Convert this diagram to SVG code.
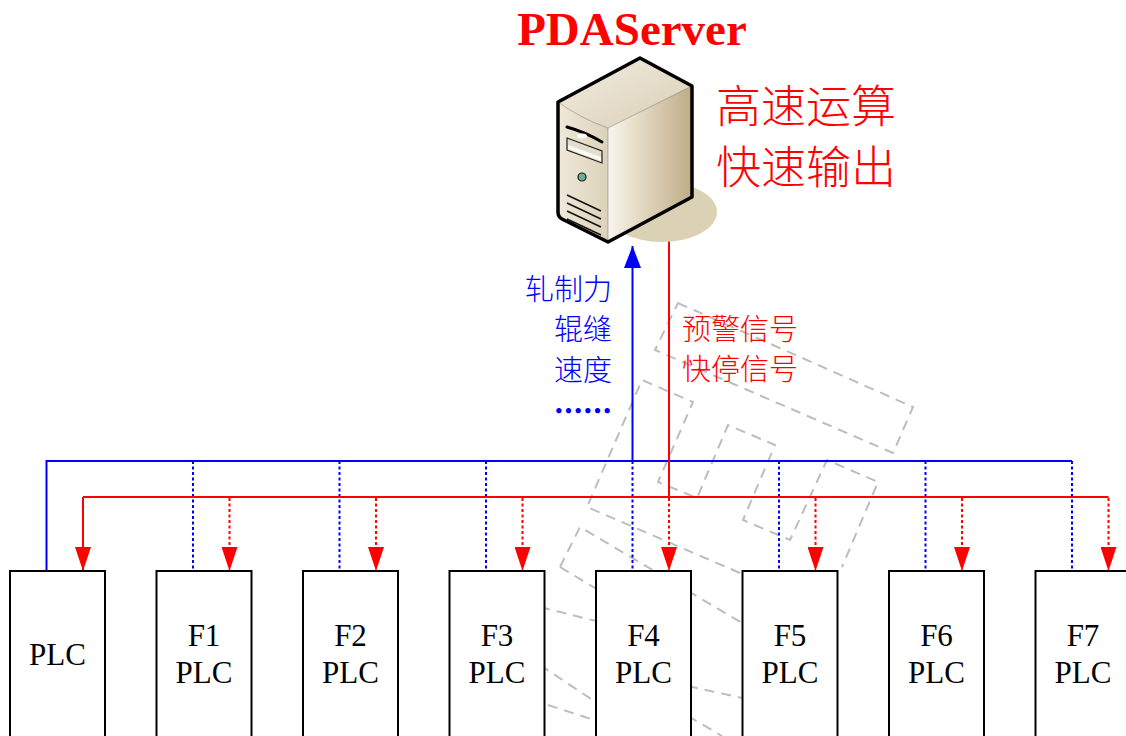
<svg xmlns="http://www.w3.org/2000/svg" width="1126" height="736" viewBox="0 0 1126 736">
  <style>
    .wm { fill: none; stroke: #bdbdbd; stroke-width: 2; stroke-dasharray: 10 7; }
    .bus-b { fill: none; stroke: #0000ff; stroke-width: 2; }
    .bus-r { fill: none; stroke: #ff0000; stroke-width: 2; }
    .dot-b { fill: none; stroke: #0000ff; stroke-width: 2; stroke-dasharray: 3 2.5; }
    .dot-r { fill: none; stroke: #ff0000; stroke-width: 2; stroke-dasharray: 3 2.5; }
    .box { fill: #ffffff; stroke: #000000; stroke-width: 2; }
    .lbl { font-family: "Liberation Serif", "Times New Roman", serif; font-size: 31px; fill: #000000; text-anchor: middle; }
    .cn { font-family: "Noto Sans CJK SC", "Noto Sans CJK JP", sans-serif; font-weight: 300; }
    .ellip { font-family: "Noto Sans CJK SC", "Noto Sans CJK JP", sans-serif; font-weight: 900; }
  </style>
  <defs>
    <marker id="arrowR" markerUnits="userSpaceOnUse" markerWidth="24" markerHeight="16" viewBox="0 0 24 16" refX="24" refY="8" orient="auto">
      <path d="M0,0 L24,8 L0,16 z" fill="#ff0000"/>
    </marker>
    <marker id="arrowB" markerUnits="userSpaceOnUse" markerWidth="22" markerHeight="17" viewBox="0 0 22 17" refX="22" refY="8.5" orient="auto">
      <path d="M0,0 L22,8.5 L0,17 z" fill="#0000ff"/>
    </marker>
    <linearGradient id="gFront" x1="0" y1="0" x2="1" y2="0">
      <stop offset="0" stop-color="#efe9da"/>
      <stop offset="1" stop-color="#dcd2ba"/>
    </linearGradient>
    <linearGradient id="gSide" x1="0" y1="0" x2="1" y2="0">
      <stop offset="0" stop-color="#f8f5ee"/>
      <stop offset="0.35" stop-color="#e6dcc6"/>
      <stop offset="1" stop-color="#bfac86"/>
    </linearGradient>
    <linearGradient id="gTop" x1="0" y1="0" x2="1" y2="1">
      <stop offset="0" stop-color="#f3eee2"/>
      <stop offset="1" stop-color="#d9ceb5"/>
    </linearGradient>
  </defs>

  <!-- faint dashed background outlines -->
  <g id="backdrop">
    <polygon class="wm" points="678,303 913,407 893,453 655,350"/>
    <polyline class="wm" points="740,573 587,507 642,380 693,402 658,482 697,498 728,425 775,445 743,520 790,540 827,460 878,482 842,567"/>
    <polyline class="wm" points="560,567 580,527 742,623"/>
    <line class="wm" x1="560" y1="567" x2="640" y2="615"/>
    <line class="wm" x1="540" y1="607" x2="600" y2="622"/>
    <line class="wm" x1="540" y1="665" x2="600" y2="705"/>
    <line class="wm" x1="548" y1="705" x2="600" y2="722"/>
    <line class="wm" x1="688" y1="686" x2="742" y2="698"/>
    <line class="wm" x1="688" y1="716" x2="722" y2="736"/>
  </g>

  <!-- signal lines -->
  <g id="connectors">
    <path class="bus-b" d="M46.5,571 V461 H1072"/>
    <path class="bus-b" d="M632.5,461 V246" marker-end="url(#arrowB)"/>
    <path class="dot-b" d="M193,461 V571 M339.5,461 V571 M486,461 V571 M632.5,461 V571 M779,461 V571 M925.5,461 V571 M1072,461 V571"/>

    <path class="bus-r" d="M669,240 V497 M83,497 H1108.5"/>
    <path class="bus-r" d="M83,497 V571" marker-end="url(#arrowR)"/>
    <path class="dot-r" d="M229.5,498 V571" marker-end="url(#arrowR)"/>
    <path class="dot-r" d="M376,498 V571" marker-end="url(#arrowR)"/>
    <path class="dot-r" d="M522.5,498 V571" marker-end="url(#arrowR)"/>
    <path class="dot-r" d="M669,498 V571" marker-end="url(#arrowR)"/>
    <path class="dot-r" d="M815.5,498 V571" marker-end="url(#arrowR)"/>
    <path class="dot-r" d="M962,498 V571" marker-end="url(#arrowR)"/>
    <path class="dot-r" d="M1108.5,498 V571" marker-end="url(#arrowR)"/>
  </g>

  <!-- controllers -->
  <g id="plc">
    <rect class="box" x="10" y="571" width="95" height="175"/>
    <text class="lbl" x="57.5" y="665">PLC</text>
  </g>
  <g id="f1">
    <rect class="box" x="156.5" y="571" width="95" height="175"/>
    <text class="lbl" x="204" y="646">F1</text>
    <text class="lbl" x="204" y="683">PLC</text>
  </g>
  <g id="f2">
    <rect class="box" x="303" y="571" width="95" height="175"/>
    <text class="lbl" x="350.5" y="646">F2</text>
    <text class="lbl" x="350.5" y="683">PLC</text>
  </g>
  <g id="f3">
    <rect class="box" x="449.5" y="571" width="95" height="175"/>
    <text class="lbl" x="497" y="646">F3</text>
    <text class="lbl" x="497" y="683">PLC</text>
  </g>
  <g id="f4">
    <rect class="box" x="596" y="571" width="95" height="175"/>
    <text class="lbl" x="643.5" y="646">F4</text>
    <text class="lbl" x="643.5" y="683">PLC</text>
  </g>
  <g id="f5">
    <rect class="box" x="742.5" y="571" width="95" height="175"/>
    <text class="lbl" x="790" y="646">F5</text>
    <text class="lbl" x="790" y="683">PLC</text>
  </g>
  <g id="f6">
    <rect class="box" x="889" y="571" width="95" height="175"/>
    <text class="lbl" x="936.5" y="646">F6</text>
    <text class="lbl" x="936.5" y="683">PLC</text>
  </g>
  <g id="f7">
    <rect class="box" x="1035.5" y="571" width="95" height="175"/>
    <text class="lbl" x="1083" y="646">F7</text>
    <text class="lbl" x="1083" y="683">PLC</text>
  </g>

  <!-- server tower -->
  <g id="server">
    <text x="632" y="45" font-family="Liberation Serif, Times New Roman, serif" font-weight="bold" font-size="47" fill="#ff0000" text-anchor="middle">PDAServer</text>
    <ellipse cx="662" cy="212" rx="55" ry="30" fill="#dbd1b5"/>
    <!-- top face -->
    <path d="M558,102 L640,58 L692,86 L608,128 Q580,118 558,102 z" fill="url(#gTop)"/>
    <!-- side face -->
    <path d="M608,128 L692,86 L692,197 L608,242 z" fill="url(#gSide)"/>
    <!-- front face -->
    <path d="M558,102 Q580,118 608,128 L608,242 L562,219 Q558,217 558,212 z" fill="url(#gFront)"/>
    <!-- edges -->
    <path d="M558,102 L640,58 L692,86 L692,197 L608,242 L562,219 Q558,217 558,212 z" fill="none" stroke="#000" stroke-width="3.5" stroke-linejoin="round"/>
    <path d="M558,102 Q580,118 608,128 L692,86 M608,128 V242" fill="none" stroke="#000" stroke-width="1" stroke-opacity="0.25"/>
    <!-- drive bay -->
    <path d="M567,127 Q585,132 602,142" fill="none" stroke="#000" stroke-width="3" stroke-linecap="round"/>
    <ellipse cx="582" cy="136" rx="5" ry="2.5" fill="#ffffff"/>
    <polygon points="567,138 602,151 602,163 567,150" fill="#e4ddcd" stroke="#222" stroke-width="1.2"/>
    <polygon points="568,145 601,157 601,161 568,149" fill="#fbf9f4"/>
    <circle cx="582" cy="177" r="4" fill="#67b296" stroke="#1a1a1a" stroke-width="1.2"/>
    <path d="M567,195 L601,211 M567,203 L601,219 M567,211 L601,227 M567,219 L601,235" fill="none" stroke="#111" stroke-width="1.5"/>
  </g>

  <!-- annotations -->
  <g id="notes">
    <text class="cn" x="716" y="123" font-size="45" fill="#ff0000">高速运算</text>
    <text class="cn" x="716" y="184" font-size="45" fill="#ff0000">快速输出</text>
    <text class="cn" x="612" y="300" font-size="29" fill="#0000ff" text-anchor="end">轧制力</text>
    <text class="cn" x="612" y="340" font-size="29" fill="#0000ff" text-anchor="end">辊缝</text>
    <text class="cn" x="612" y="381" font-size="29" fill="#0000ff" text-anchor="end">速度</text>
    <text class="ellip" x="612" y="422" font-size="29" fill="#0000ff" text-anchor="end">……</text>
    <text class="cn" x="682" y="340" font-size="29" fill="#ff0000">预警信号</text>
    <text class="cn" x="682" y="380" font-size="29" fill="#ff0000">快停信号</text>
  </g>
</svg>
